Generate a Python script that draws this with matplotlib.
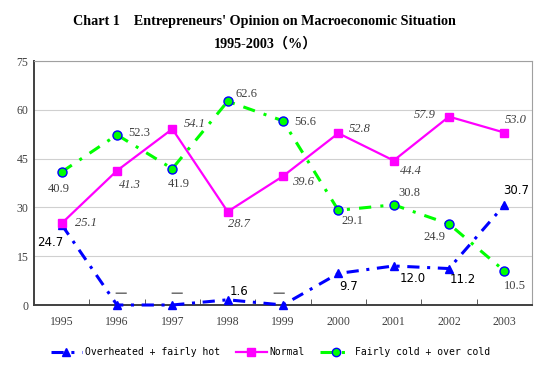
import matplotlib
matplotlib.use("Agg")
import matplotlib.pyplot as plt
from matplotlib.lines import Line2D

years = ["1995", "1996", "1997", "1998", "1999", "2000", "2001", "2002", "2003"]
hot = [24.7, 0, 0, 1.6, 0, 9.7, 12.0, 11.2, 30.7]
normal = [25.1, 41.3, 54.1, 28.7, 39.6, 52.8, 44.4, 57.9, 53.0]
cold = [40.9, 52.3, 41.9, 62.6, 56.6, 29.1, 30.8, 24.9, 10.5]
# label text for hot series: years with no value show a dash
hot_labels = ["24.7", "—", "—", "1.6", "—", "9.7", "12.0", "11.2", "30.7"]

# label offsets in pixels (dx, dy)
cold_off = [(-3, -17), (22, 2), (6, -15), (19, 7), (22, -1), (14, -11), (16, 12), (-15, -13), (11, -15)]
normal_off = [(24, 0), (13, -14), (22, 5), (11, -12), (20, -6), (21, 4), (17, -10), (-24, 2), (11, 13)]
hot_off = [(-11, -18), (4, 12), (4, 12), (11, 8), (-4, 12), (10, -13), (19, -13), (14, -11), (12, 15)]

fig = plt.figure(figsize=(5.55, 3.72), dpi=100)
ax = fig.add_axes([34 / 555, 1 - 305 / 372, 498 / 555, 244 / 372])

x = list(range(len(years)))
ax.plot(x, hot, color="#0000ff", lw=2.2, dashes=(4, 2.5, 1, 2.5), marker="^", ms=6,
        mfc="#0000ff", mec="#0000ff", zorder=3, clip_on=False)
ax.plot(x, normal, color="#ff00ff", lw=1.6, marker="s", ms=5.5,
        mfc="#ff00ff", mec="#ff00ff", zorder=3)
ax.plot(x, cold, color="#00ff00", lw=2.2, dashes=(4, 3, 1, 3), marker="o", ms=6.5,
        mfc="#00ff00", mec="#0000ff", mew=1.0, zorder=4)

for i in x:
    ax.annotate(f"{cold[i]:.1f}", (i, cold[i]), xytext=cold_off[i], textcoords="offset pixels",
                ha="center", va="center", fontsize=9, color="#404040", family="Liberation Serif")
    ax.annotate(f"{normal[i]:.1f}", (i, normal[i]), xytext=normal_off[i], textcoords="offset pixels",
                ha="center", va="center", fontsize=9, color="#404040", family="Liberation Serif",
                style="italic")
    if hot_labels[i] == "—":
        ax.annotate(hot_labels[i], (i, hot[i]), xytext=hot_off[i], textcoords="offset pixels",
                    ha="center", va="center", fontsize=9, color="#707070", family="DejaVu Sans",
                    fontweight="bold")
    else:
        ax.annotate(hot_labels[i], (i, hot[i]), xytext=hot_off[i], textcoords="offset pixels",
                    ha="center", va="center", fontsize=8.5, color="black", family="DejaVu Sans")

ax.set_xlim(-0.5, len(years) - 0.5)
ax.set_ylim(0, 75)
ax.set_yticks([0, 15, 30, 45, 60, 75])
ax.set_xticks(x)
ax.set_xticklabels(years)
ax.set_xticks([i + 0.5 for i in x[:-1]], minor=True)
ax.tick_params(axis="x", which="major", length=0, pad=8)
ax.tick_params(axis="x", which="minor", length=4, direction="in", color="#404040")
ax.tick_params(axis="y", length=0, pad=4)
for lab in ax.get_xticklabels() + ax.get_yticklabels():
    lab.set_fontfamily("Liberation Serif")
    lab.set_fontsize(8.5)
    lab.set_color("#404040")
ax.grid(axis="y", color="#d0d0d0", lw=0.8)
ax.set_axisbelow(True)
ax.spines["left"].set_color("#404040")
ax.spines["bottom"].set_color("#404040")
ax.spines["left"].set_linewidth(1.4)
ax.spines["bottom"].set_linewidth(1.4)
ax.spines["top"].set_color("#a0a0a0")
ax.spines["right"].set_color("#a0a0a0")

fig.text(0.476, 1 - 22 / 372, "Chart 1    Entrepreneurs' Opinion on Macroeconomic Situation",
         ha="center", va="center", fontsize=10.2, fontweight="bold", family="Liberation Serif")
fig.text(0.478, 1 - 44 / 372, "1995-2003\uff08%\uff09",
         ha="center", va="center", fontsize=10.2, fontweight="bold",
         family=["Liberation Serif", "Noto Sans CJK SC"])

handles = [
    Line2D([], [], color="#0000ff", lw=2.2, dashes=(4, 2.5, 1, 2.5), marker="^", ms=6),
    Line2D([], [], color="#ff00ff", lw=1.6, marker="s", ms=5.5),
    Line2D([], [], color="#00ff00", lw=2.2, dashes=(4, 3, 1, 3), marker="o", ms=6,
           mfc="#00ff00", mec="#0000ff"),
]
fig.legend(handles, ["Overheated + fairly hot", "Normal", "Fairly cold + over cold"],
           loc="center", bbox_to_anchor=(0.487, 1 - 352 / 372), ncol=3, frameon=False,
           prop={"family": "DejaVu Sans Mono", "size": 7}, handlelength=3.2,
           handletextpad=0.3, columnspacing=1.6)

fig.savefig("out.png", dpi=100)
